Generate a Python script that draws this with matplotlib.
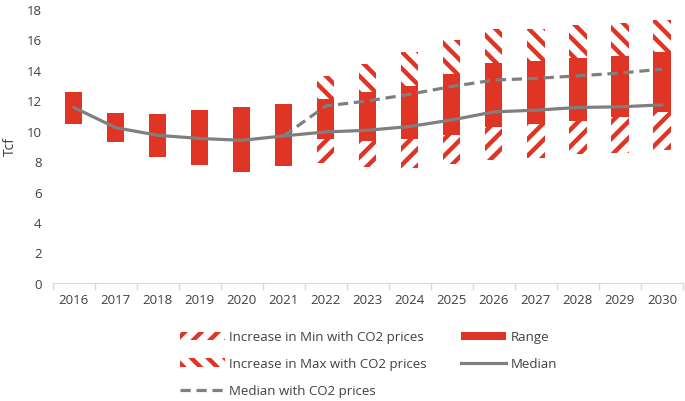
import numpy as np
import matplotlib
matplotlib.use("Agg")
from matplotlib import pyplot as plt
from matplotlib.patches import Patch
from matplotlib.lines import Line2D

years = [str(y) for y in range(2016, 2031)]

# bottom of the lower hatched part (min without CO2 price)
min_low = [10.43, 9.26, 8.3, 7.77, 7.31, 7.7, 7.9, 7.62, 7.58, 7.79, 8.06, 8.23, 8.45, 8.56, 8.74]
# bottom of the red range (min with CO2 price)
range_low = [10.43, 9.26, 8.3, 7.77, 7.31, 7.7, 9.44, 9.33, 9.44, 9.7, 10.25, 10.43, 10.65, 10.91, 11.2]
# top of the red range
range_high = [12.56, 11.15, 11.1, 11.35, 11.53, 11.75, 12.1, 12.52, 12.95, 13.72, 14.43, 14.6, 14.78, 14.93, 15.15]
# top of the upper hatched part (max with CO2 price)
max_high = [12.56, 11.15, 11.1, 11.35, 11.53, 11.75, 13.6, 14.38, 15.15, 15.98, 16.69, 16.69, 16.97, 17.08, 17.28]

median = [11.53, 10.2, 9.7, 9.49, 9.37, 9.66, 9.92, 10.03, 10.28, 10.71, 11.24, 11.35, 11.53, 11.57, 11.7]
median_co2 = [np.nan] * 5 + [9.66, 11.63, 11.96, 12.4, 12.91, 13.33, 13.44, 13.61, 13.79, 14.05]

red = "#E03424"
grey = "#7F7F7F"
txt = "#404040"

plt.rcParams["font.family"] = ["Open Sans", "DejaVu Sans"]
plt.rcParams["hatch.linewidth"] = 3.2
plt.rcParams["hatch.color"] = red

min_low = np.array(min_low)
range_low = np.array(range_low)
range_high = np.array(range_high)
max_high = np.array(max_high)

fig = plt.figure(figsize=(6.85, 4.02), dpi=100)
ax = fig.add_axes([0.077, 0.294, 0.92, 0.681])

x = np.arange(len(years))
w = 0.41
ax.bar(x, range_low - min_low, w, bottom=min_low, color="white", edgecolor=red,
       hatch="//", linewidth=0, zorder=2)
ax.bar(x, range_high - range_low, w, bottom=range_low, color=red, linewidth=0, zorder=2)
ax.bar(x, max_high - range_high, w, bottom=range_high, color="white", edgecolor=red,
       hatch="\\\\", linewidth=0, zorder=2)

ax.plot(x, median, color=grey, lw=2.3, solid_capstyle="round", zorder=3)
ax.plot(x, median_co2, color=grey, lw=2.3, dashes=(3.2, 1.8), zorder=3)

ax.set_xlim(-0.5, len(years) - 0.5)
ax.set_ylim(0, 18)
ax.set_yticks(range(0, 19, 2))
ax.set_xticks(x)
ax.set_xticklabels(years)
ax.set_xticks(np.arange(-0.5, len(years), 1), minor=True)
ax.tick_params(axis="x", which="major", length=0, pad=7, labelsize=9.5, labelcolor=txt)
ax.tick_params(axis="x", which="minor", length=5, color="#D9D9D9", width=1)
ax.tick_params(axis="y", length=0, pad=8, labelsize=9.5, labelcolor=txt)
for s in ["top", "right", "left"]:
    ax.spines[s].set_visible(False)
ax.spines["bottom"].set_color("#D9D9D9")
ax.set_ylabel("Tcf", fontsize=10, color=txt, labelpad=6)

handles = [
    Patch(facecolor="white", edgecolor=red, hatch="//", linewidth=0),
    Patch(facecolor="white", edgecolor=red, hatch="\\\\", linewidth=0),
    Line2D([], [], color=grey, lw=2.3, dashes=(3.2, 1.8)),
    Patch(facecolor=red, linewidth=0),
    Line2D([], [], color=grey, lw=2.3),
]
labels = ["Increase in Min with CO2 prices", "Increase in Max with CO2 prices",
          "Median with CO2 prices", "Range", "Median"]
leg = fig.legend(handles, labels, ncol=2, loc="upper left", bbox_to_anchor=(0.245, 0.205),
                 frameon=False, fontsize=9.5, handlelength=3.4, handleheight=0.6,
                 labelspacing=1.05, columnspacing=2.6, handletextpad=0.35)
for t in leg.get_texts():
    t.set_color(txt)

fig.savefig("out.png", dpi=100)
